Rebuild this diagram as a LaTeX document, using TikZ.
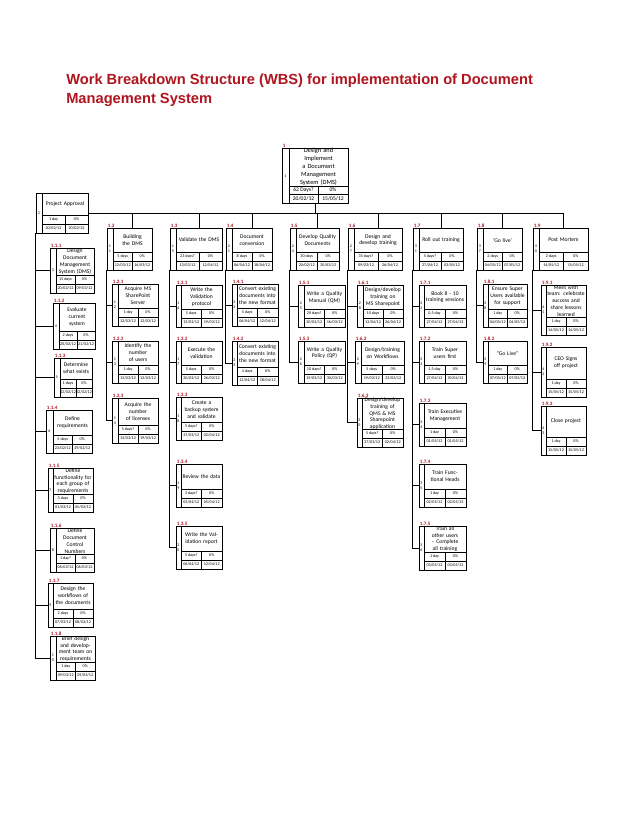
\documentclass[tikz,border=0pt]{standalone}
\usepackage{fontspec}
\setmainfont{Carlito}
\newfontfamily\ttlfont{Liberation Sans}
\usetikzlibrary{fit}
\definecolor{wred}{HTML}{B0141E}
\tikzset{
 box/.style={draw,line width=0.55pt},
 ttl/.style={align=center,inner sep=0,font=\fontsize{4.2}{5.2}\selectfont},
 dat/.style={inner sep=0,font=\fontsize{3.1}{3.5}\selectfont},
 num/.style={inner sep=0,align=center,font=\fontsize{3}{3.6}\selectfont},
 lbl/.style={inner sep=0.5pt,text=wred,font=\bfseries\fontsize{3.8}{4}\selectfont},
 conn/.style={line width=0.6pt}
}
\def\wbsdata#1;#2;#3;#4;#5\relax{\def\wL{#1}\def\wD{#2}\def\wP{#3}\def\wS{#4}\def\wE{#5}}
\def\wbs#1(#2,#3,#4,#5,#6)#7#8#9{%
 \wbsdata#9\relax
 \pgfmathsetmacro\ww{(#4-#3)*0.75-2}%
 \pgfmathsetmacro\ya{#6-18}\pgfmathsetmacro\yb{#6-9}\pgfmathsetmacro\xm{(#3+#4)/2}%
 \pgfmathsetmacro\ym{(#5+\ya)/2}\pgfmathsetmacro\yr{(\ya+\yb)/2}\pgfmathsetmacro\ys{(\yb+#6)/2}%
 \pgfmathsetmacro\xl{(#3+\xm)/2}\pgfmathsetmacro\xr{(\xm+#4)/2}\pgfmathsetmacro\xs{(#2+#3)/2}%
 \pgfmathsetmacro\yn{(#5+#6)/2}%
 \draw[box] (#2,#5) rectangle (#3,#6);
 \draw[box] (#3,#5) rectangle (#4,#6);
 \draw[box] (#3,\ya) -- (#4,\ya) (#3,\yb) -- (#4,\yb) (\xm,\ya) -- (\xm,#6);
 \node[fit={(#2,#5)(#4,#6)},inner sep=0] (#1) {};
 \node[fit={(#3,#5)(#4,#6)},inner sep=0] (#1-b) {};
 \node[ttl,text width=\ww pt] at (\xm,\ym) {#8};
 \node[num] at (\xs,\yn) {#7};
 \node[dat] at (\xl,\yr) {\wD};
 \node[dat] at (\xr,\yr) {\wP};
 \node[dat] at (\xl,\ys) {\wS};
 \node[dat] at (\xr,\ys) {\wE};
 \node[lbl,anchor=south west] at (#2,#5) {\wL};
}
\begin{document}
\begin{tikzpicture}[x=0.75pt,y=-0.75pt]
\useasboundingbox (0,0) rectangle (638,826);
\fill[white] (0,0) rectangle (638,826);
\node[anchor=north west,inner sep=0,text=wred,align=left,font=\ttlfont\bfseries\fontsize{11}{14}\selectfont] (title) at (66,74)
 {Work Breakdown Structure (WBS) for implementation of Document\\Management System};
% root
\draw[box] (282,148) rectangle (289,203);
\draw[box] (289,148) rectangle (348,203);
\draw[box] (289,186) -- (348,186) (289,194) -- (348,194) (318,186) -- (318,203);
\node[fit={(282,148)(348,203)},inner sep=0] (root) {};
\node[ttl,text width=40pt,font=\fontsize{4.8}{6}\selectfont] at (318.5,167) {Design and Implement a Document Management System (DMS)};
\node[num] at (285.5,176) {1};
\node[dat,font=\fontsize{4.2}{5}\selectfont] at (303.5,190) {62 Days?};
\node[dat,font=\fontsize{4.2}{5}\selectfont] at (333,190) {0\%};
\node[dat,font=\fontsize{4.2}{5}\selectfont] at (303.5,198.5) {20/02/12};
\node[dat,font=\fontsize{4.2}{5}\selectfont] at (333,198.5) {15/05/12};
\node[lbl,anchor=south west] at (282,148) {1};
% level 1
\wbs{pa}(36,42,88,193,233){2}{Project Approval}{;1 day;0\%;20/02/12;20/02/12}
\wbs{l2}(107,113,152,228,270){1\\1}{Building the DMS}{1.2;5 days;0\%;12/03/12;16/03/12}
\wbs{l3}(170,176,222,228,270){1\\5}{Validate the DMS}{1.3;23 days?;0\%;13/03/12;12/04/12}
\wbs{l4}(226,232,272,228,270){2\\1}{Document conversion}{1.4;8 days;0\%;06/04/12;18/04/12}
\wbs{l5}(290,296,339,228,270){2\\4}{Develop Quality Documents}{1.5;30 days;0\%;20/02/12;30/03/12}
\wbs{l6}(348,354,402,228,270){2\\7}{Design and develop training}{1.6;35 days?;0\%;09/03/12;26/04/12}
\wbs{l7}(413,419,463,228,270){3\\1}{Roll out training}{1.7;5 days?;0\%;27/04/12;03/05/12}
\wbs{l8}(477,483,522,228,270){3\\7}{`Go live'}{1.8;2 days;0\%;04/05/12;07/05/12}
\wbs{l9}(533,539,588,228,270){4\\0}{Post Mortem}{1.9;2 days;0\%;14/05/12;15/05/12}
% 1.1 children
\wbs{a1}(50,56,94,248,293){3}{Design Document Management System (DMS)}{1.1.1;15 days;0\%;20/02/12;09/03/12}
\wbs{a2}(53,59,95,303,349){4}{Evaluate current system}{1.1.2;2 days;0\%;20/02/12;21/02/12}
\wbs{a3}(54,60,92,358,397){5}{Determine what exists}{1.1.3;1 days;0\%;22/02/12;22/02/12}
\wbs{a4}(46,53,92,410,453){6}{Define requirements}{1.1.4;5 days;0\%;23/02/12;29/02/12}
\wbs{a5}(48,53,93,468,512){7}{Define functionality for each group of requirements}{1.1.5;3 days;0\%;01/03/12;05/03/12}
\wbs{a6}(50,56,94,528,572){8}{Define Document Control Numbers}{1.1.6;1 day?;0\%;06/03/12;06/03/12}
\wbs{a7}(48,53,93,583,627){9}{Design the workflows of the documents}{1.1.7;2 days;0\%;07/03/12;08/03/12}
\wbs{a8}(50,56,95,636,680){1\\0}{Brief design and development team on requirements}{1.1.8;1 day;0\%;09/03/12;09/03/12}
% 1.2
\wbs{b1}(112,118,158,284,326){1\\2}{Acquire MS SharePoint Server}{1.2.1;1 day;0\%;12/03/12;12/03/12}
\wbs{b2}(112,118,158,341,383){1\\3}{Identify the number of users}{1.2.2;1 day;0\%;13/03/12;13/03/12}
\wbs{b3}(112,118,158,398,443){1\\4}{Acquire the number of licenses}{1.2.3;5 days?;0\%;13/03/12;19/03/12}
% 1.3
\wbs{c1}(176,181,222,285,327){1\\6}{Write the Validation protocol}{1.3.1;5 days;0\%;13/03/12;19/03/12}
\wbs{c2}(176,181,222,341,383){1\\7}{Execute the validation}{1.3.2;5 days;0\%;20/03/12;26/03/12}
\wbs{c3}(176,181,222,397,440){1\\8}{Create a backup system and validate}{1.3.3;5 days?;0\%;27/03/12;02/04/12}
\wbs{c4}(176,181,222,464,507){1\\9}{Review the data}{1.3.4;3 days?;0\%;03/04/12;05/04/12}
\wbs{c5}(176,181,222,526,569){2\\0}{Write the Validation report}{1.3.5;5 days?;0\%;06/04/12;12/04/12}
% 1.4
\wbs{d1}(232,237,278,284,326){2\\2}{Convert existing documents into the new format}{1.4.1;5 days;0\%;06/04/12;12/04/12}
\wbs{d2}(232,237,278,341,385){2\\3}{Convert existing documents into the new format}{1.4.2;4 days;0\%;13/04/12;18/04/12}
% 1.5
\wbs{e1}(298,304,345,285,327){2\\5}{Write a Quality Manual (QM)}{1.5.1;20 days?;0\%;20/02/12;16/03/12}
\wbs{e2}(298,304,345,341,383){2\\6}{Write a Quality Policy (QP)}{1.5.2;10 days?;0\%;19/03/12;30/03/12}
% 1.6
\wbs{f1}(357,363,403,285,327){2\\8}{Design/develop training on MS Sharepoint}{1.6.1;10 days;0\%;13/04/12;26/04/12}
\wbs{f2}(355,361,404,341,383){2\\9}{Design/training on Workflows}{1.6.2;5 days;0\%;19/03/12;23/03/12}
\wbs{f3}(357,362,403,398,447){3\\0}{Design/develop training of QMS \& MS Sharepoint application}{1.6.3;5 days?;0\%;27/03/12;02/04/12}
% 1.7
\wbs{g1}(419,424,466,285,327){3\\2}{Book 8 - 10 training sessions}{1.7.1;0.5 day;0\%;27/04/12;27/04/12}
\wbs{g2}(419,424,466,341,383){3\\3}{Train Super users first}{1.7.2;1.5 day;0\%;27/04/12;30/04/12}
\wbs{g3}(419,424,466,403,446){3\\4}{Train Executive Management}{1.7.3;1 day;0\%;01/05/12;01/05/12}
\wbs{g4}(419,424,466,464,507){3\\5}{Train Functional Heads}{1.7.4;1 day;0\%;02/05/12;02/05/12}
\wbs{g5}(419,424,466,526,570){3\\6}{Train all other users -- Complete all training}{1.7.5;1 day;0\%;03/05/12;03/05/12}
% 1.8
\wbs{h1}(483,488,527,284,327){3\\8}{Ensure Super Users available for support}{1.8.1;1 day;0\%;04/05/12;04/05/12}
\wbs{h2}(483,488,527,341,383){3\\9}{``Go Live''}{1.8.2;1 day;0\%;07/05/12;07/05/12}
% 1.9
\wbs{i1}(541,546,586,285,335){4\\1}{Meet with team: celebrate success and share lessons learned}{1.9.1;1 day;0\%;14/05/12;14/05/12}
\wbs{i2}(541,546,586,347,397){4\\2}{CEO Signs off project}{1.9.2;1 day;0\%;15/05/12;15/05/12}
\wbs{i3}(541,546,586,406,455){4\\3}{Close project}{1.9.3;1 day;0\%;15/05/12;15/05/12}
% connectors
\coordinate (hl) at (0,213);
\draw[conn] (root.south) -- (root.south |- hl);
\draw[conn] (pa.east) -- (l9-b.north |- hl);
\foreach \n in {l2,l3,l4,l5,l6,l7,l8,l9} \draw[conn] (\n-b.north |- hl) -- (\n-b.north);
\foreach \p/\cs in {pa/{a1,a2,a3,a4,a5,a6,a7,a8},l2/{b1,b2,b3},l3/{c1,c2,c3,c4,c5},l4/{d1,d2},l5/{e1,e2},l6/{f1,f2,f3},l7/{g1,g2,g3,g4,g5},l8/{h1,h2},l9/{i1,i2,i3}}
 \foreach \c in \cs \draw[conn] (\p.south west) |- (\c.west);
\end{tikzpicture}
\end{document}
